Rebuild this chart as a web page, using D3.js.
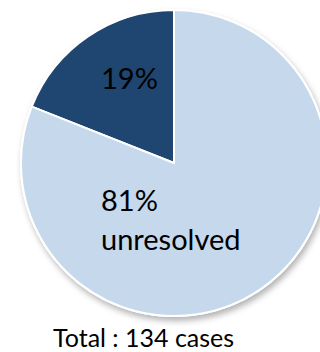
<!DOCTYPE html>
<html>
<head>
<meta charset="utf-8">
<script src="https://cdn.jsdelivr.net/npm/d3@7"></script>
<style>
  html, body { margin: 0; padding: 0; background: #ffffff; }
  svg { display: block; }
</style>
</head>
<body>
<div id="chart"></div>
<script>
// ---- data ----
const categories = ["resolved", "unresolved"];
const values = [19, 81];
const labelLines = [["19%"], ["81%", "unresolved"]];
const totalLabel = "Total : 134 cases";
const colors = ["#1f4670", "#c5d8ec"];

const W = 320, H = 352;
const cx = 174, cy = 163, R = 153;

const svg = d3.select("#chart").append("svg")
  .attr("width", W).attr("height", H);

const defs = svg.append("defs");
const f = defs.append("filter").attr("id", "shadow")
  .attr("x", "-20%").attr("y", "-20%").attr("width", "140%").attr("height", "140%");
f.append("feDropShadow").attr("dx", 2).attr("dy", 4)
  .attr("stdDeviation", 3).attr("flood-color", "#000").attr("flood-opacity", 0.3);

const pie = d3.pie().sort(null).startAngle(0).endAngle(-2 * Math.PI);
const arcs = pie(values);
const arc = d3.arc().innerRadius(0).outerRadius(R);

const g = svg.append("g").attr("transform", `translate(${cx},${cy})`);

// shadowed base disc
g.append("circle").attr("r", R).attr("fill", "#ffffff")
  .attr("stroke", "#ffffff").attr("stroke-width", 2)
  .attr("filter", "url(#shadow)");

g.selectAll("path.slice").data(arcs).enter().append("path")
  .attr("class", "slice")
  .attr("d", arc)
  .attr("fill", (d, i) => colors[i])
  .attr("stroke", "#ffffff")
  .attr("stroke-width", 2)
  .attr("stroke-linejoin", "round");

// labels
const font = "Lato, 'Open Sans', sans-serif";
const labelPos = [[-73, -74], [-73, 48]];
labelLines.forEach((lines, i) => {
  const t = g.append("text")
    .attr("x", labelPos[i][0]).attr("y", labelPos[i][1])
    .attr("font-family", font).attr("font-size", 29)
    .attr("fill", "#000");
  lines.forEach((ln, j) => {
    t.append("tspan").attr("x", labelPos[i][0]).attr("dy", j === 0 ? 0 : 39).text(ln);
  });
});

svg.append("text")
  .attr("x", 53).attr("y", 347)
  .attr("font-family", font).attr("font-size", 25)
  .attr("fill", "#000")
  .text(totalLabel);
</script>
</body>
</html>
